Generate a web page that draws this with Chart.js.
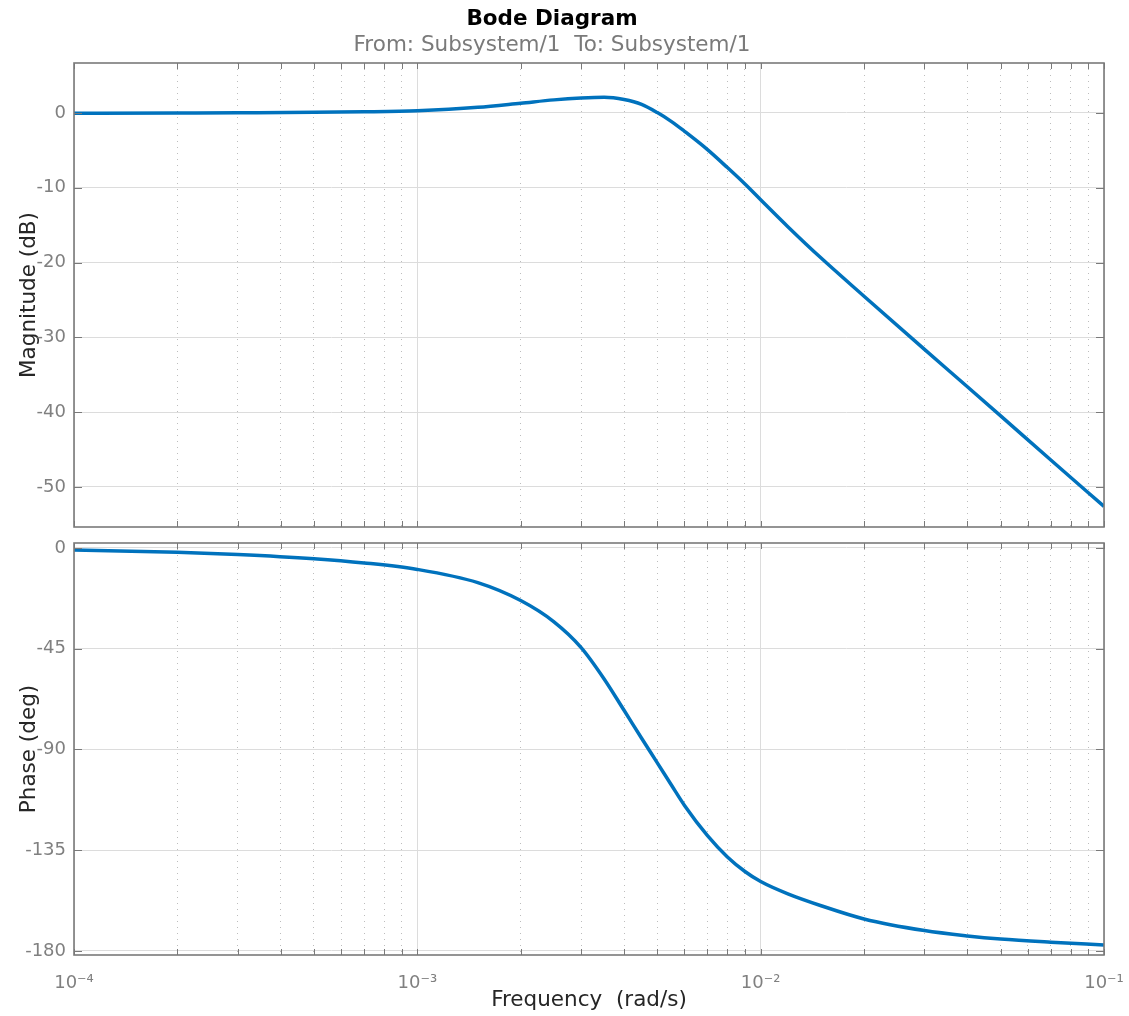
<!DOCTYPE html>
<html><head><meta charset="utf-8">
<script src="https://cdn.jsdelivr.net/npm/chart.js@4.4.1/dist/chart.umd.min.js"></script>
<style>
html,body{margin:0;padding:0;background:#fff;}
#wrap{position:relative;width:1129px;height:1016px;overflow:hidden;}
#top{position:absolute;left:0;top:0;width:1129px;height:535px;}
#bot{position:absolute;left:0;top:535px;width:1129px;height:481px;}
canvas{display:block;}
</style></head><body>
<div id="wrap">
<div id="top"><canvas id="c1" width="1129" height="535"></canvas></div>
<div id="bot"><canvas id="c2" width="1129" height="481"></canvas></div>
</div>
<script>
// ---- data ----
const frequency = [1e-4, 2e-4, 3e-4, 5e-4, 7e-4, 1e-3, 1.5e-3, 2e-3, 2.5e-3, 3e-3, 3.5e-3, 4e-3, 4.5e-3, 5e-3, 5.5e-3, 6e-3, 7e-3, 8e-3, 9e-3, 1e-2, 1.2e-2, 1.5e-2, 2e-2, 3e-2, 4e-2, 5e-2, 7e-2, 1e-1];
const magnitudeDb = [-0.05, 0.0, 0.03, 0.08, 0.15, 0.3, 0.75, 1.3, 1.75, 2.0, 2.1, 1.8, 1.15, 0.05, -1.15, -2.45, -4.9, -7.3, -9.5, -11.6, -15.2, -19.4, -24.5, -31.6, -36.6, -40.5, -46.4, -52.6];
const phaseDeg = [-0.9, -1.9, -2.9, -4.8, -6.7, -9.6, -15.5, -23.5, -33.0, -44.5, -58.5, -72.5, -85.0, -96.0, -106.0, -115.0, -128.5, -138.0, -144.5, -149.0, -154.5, -159.8, -165.7, -170.9, -173.3, -174.7, -176.1, -177.3];
const magTicks = [-50, -40, -30, -20, -10, 0];
const phaseTicks = [-180, -135, -90, -45, 0];
const decadeValues = [1e-4, 1e-3, 1e-2, 1e-1];
const decadeLabels = ['10\u207B\u2074', '10\u207B\u00B3', '10\u207B\u00B2', '10\u207B\u00B9'];
const minorMultipliers = [2, 3, 4, 5, 6, 7, 8, 9];
const titleText = 'Bode Diagram';
const subtitleText = 'From: Subsystem/1  To: Subsystem/1';
const magLabel = 'Magnitude (dB)';
const phaseLabel = 'Phase (deg)';
const freqLabel = 'Frequency  (rad/s)';

// ---- styling ----
const FAM = '"DejaVu Sans", sans-serif';
const TICK_COLOR = '#808080';
const LABEL_COLOR = '#262626';
const FRAME = '#7a7a7a';
const GRID_MAJOR = '#dcdcdc';
const GRID_MINOR = '#bdbdbd';
const LINE = '#0072BD';

const xTickValues = [];
decadeValues.forEach((d, i) => {
  xTickValues.push(d);
  if (i < decadeValues.length - 1) minorMultipliers.forEach(m => xTickValues.push(m * d));
});
function isMajor(v) {
  return decadeValues.some(d => Math.abs(v / d - 1) < 1e-6);
}
function decadeLabel(v) {
  const i = decadeValues.findIndex(d => Math.abs(v / d - 1) < 1e-6);
  return i >= 0 ? decadeLabels[i] : '';
}
const points = (ys) => frequency.map((f, i) => ({x: f, y: ys[i]}));

const framePlugin = {
  id: 'frame',
  afterDatasetsDraw(chart) {
    const {ctx, chartArea: a, scales} = chart;
    const xs = scales.x, ys = scales.y;
    ctx.save();
    ctx.strokeStyle = FRAME;
    ctx.lineWidth = 1;
    ctx.beginPath();
    xs.ticks.forEach((t, i) => {
      const px = Math.round(xs.getPixelForTick(i)) + 0.5;
      ctx.moveTo(px, a.bottom); ctx.lineTo(px, a.bottom - 6);
      ctx.moveTo(px, a.top); ctx.lineTo(px, a.top + 6);
    });
    ys.ticks.forEach((t, i) => {
      const py = Math.round(ys.getPixelForTick(i)) + 0.5;
      ctx.moveTo(a.left, py); ctx.lineTo(a.left + 8, py);
      ctx.moveTo(a.right, py); ctx.lineTo(a.right - 8, py);
    });
    ctx.stroke();
    ctx.lineWidth = 1.6;
    ctx.strokeRect(a.left, a.top, a.right - a.left, a.bottom - a.top);
    ctx.restore();
  }
};

function xScale(showLabels) {
  return {
    type: 'logarithmic', min: 1e-4, max: 1e-1,
    afterBuildTicks: s => { s.ticks = xTickValues.map(v => ({value: v})); },
    afterFit: s => { s.height = showLabels ? 61 : 0; s.paddingLeft = 0; s.paddingRight = 0; },
    ticks: {
      display: showLabels, autoSkip: false, maxRotation: 0, minRotation: 0,
      padding: 18, color: TICK_COLOR, font: {family: FAM, size: 18},
      callback: v => decadeLabel(v)
    },
    grid: {
      drawTicks: false, lineWidth: 1,
      color: c => (c.tick && isMajor(c.tick.value)) ? GRID_MAJOR : GRID_MINOR
    },
    border: {
      display: false,
      dash: c => (c.tick && !isMajor(c.tick.value)) ? [1, 5] : []
    },
    title: {
      display: showLabels, text: freqLabel, color: LABEL_COLOR,
      font: {family: FAM, size: 21.5}, padding: {top: 0, bottom: 3}
    }
  };
}
function yScale(min, max, tickList, label) {
  return {
    type: 'linear', min: min, max: max,
    afterBuildTicks: s => { s.ticks = tickList.map(v => ({value: v})); },
    afterFit: s => { s.width = 74; s.paddingTop = 0; s.paddingBottom = 0; },
    ticks: {padding: 8, color: TICK_COLOR, font: {family: FAM, size: 18}},
    grid: {drawTicks: false, color: GRID_MAJOR, lineWidth: 1},
    border: {display: false},
    title: {
      display: true, text: label, color: LABEL_COLOR,
      font: {family: FAM, size: 21.5}, padding: {top: 17, bottom: 0}
    }
  };
}
function lineDataset(ys) {
  return {
    data: points(ys), borderColor: LINE, borderWidth: 3.5, pointRadius: 0,
    cubicInterpolationMode: 'monotone', fill: false
  };
}

new Chart(document.getElementById('c1'), {
  type: 'line',
  data: {datasets: [lineDataset(magnitudeDb)]},
  options: {
    responsive: false, animation: false,
    layout: {padding: {left: 0, right: 25, top: 0, bottom: 8}},
    plugins: {
      legend: {display: false}, tooltip: {enabled: false},
      title: {display: true, text: titleText, color: '#000000',
        font: {family: FAM, size: 21.5, weight: 'bold'}, padding: {top: 7, bottom: 0}},
      subtitle: {display: true, text: subtitleText, color: '#7a7a7a',
        font: {family: FAM, size: 21.5}, padding: {top: 0, bottom: 4.4}}
    },
    scales: {x: xScale(false), y: yScale(-55.35, 6.68, magTicks, magLabel)}
  },
  plugins: [framePlugin]
});

new Chart(document.getElementById('c2'), {
  type: 'line',
  data: {datasets: [lineDataset(phaseDeg)]},
  options: {
    responsive: false, animation: false,
    layout: {padding: {left: 0, right: 25, top: 8, bottom: 0}},
    plugins: {legend: {display: false}, tooltip: {enabled: false}},
    scales: {x: xScale(true), y: yScale(-181.8, 2.2, phaseTicks, phaseLabel)}
  },
  plugins: [framePlugin]
});
</script>
</body></html>
